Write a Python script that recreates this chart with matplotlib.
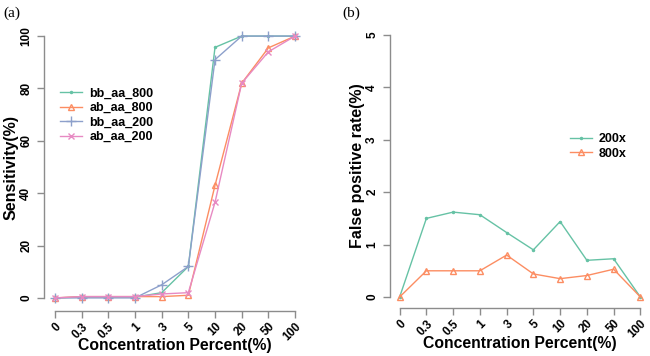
import matplotlib
matplotlib.use("Agg")
import matplotlib.pyplot as plt

plt.rcParams['font.family'] = ['Liberation Sans', 'DejaVu Sans']

conc = ['0', '0.3', '0.5', '1', '3', '5', '10', '20', '50', '100']

# panel (a): sensitivity (%)
bb_aa_800 = [0, 0.3, 0.3, 0.3, 2, 12, 95.7, 100, 100, 100]
ab_aa_800 = [0, 0.5, 0.5, 0.5, 0.5, 1, 43, 82, 95.5, 100]
bb_aa_200 = [0, 0, 0, 0, 5, 12, 91, 100, 100, 100]
ab_aa_200 = [0, 0.5, 0.5, 0.5, 1.5, 2, 36.5, 82, 94, 100]

# panel (b): false positive rate (%)
fp_200x = [0, 1.5, 1.62, 1.57, 1.23, 0.9, 1.44, 0.7, 0.73, 0]
fp_800x = [0, 0.5, 0.5, 0.5, 0.8, 0.44, 0.35, 0.41, 0.53, 0]

green = '#66C2A5'
orange = '#FC8D62'
blue = '#8DA0CB'
pink = '#E78AC3'
axcol = '#8c8c8c'

x = list(range(len(conc)))

fig = plt.figure(figsize=(6.5, 3.56), dpi=100)
ax1 = fig.add_axes([44/650, 45/356, 262/650, 288/356])
ax2 = fig.add_axes([390/650, 48/356, 260/650, 284/356])


def r_style(ax, ymax, yticks, xlab_y):
    for s in ['top', 'right']:
        ax.spines[s].set_visible(False)
    ax.spines['left'].set_bounds(0, ymax)
    ax.spines['bottom'].set_bounds(0, 9)
    for s in ['left', 'bottom']:
        ax.spines[s].set_color(axcol)
        ax.spines[s].set_linewidth(1.0)
    ax.set_xticks(x)
    ax.set_xticklabels(conc, rotation=45, ha='right', rotation_mode='anchor',
                       fontsize=8.5, fontweight='bold')
    ax.set_yticks(yticks)
    ax.set_yticklabels([str(t) for t in yticks], rotation=90, va='center',
                       fontsize=8.5, fontweight='bold')
    ax.tick_params(color=axcol, length=5, width=1)
    ax.tick_params(axis='x', pad=2)
    ax.set_xlabel('Concentration Percent(%)', fontsize=11.3, fontweight='bold',
                  va='center')
    ax.xaxis.set_label_coords(0.5, xlab_y)
    ax.patch.set_visible(False)


ax1.plot(x, bb_aa_800, color=green, lw=1, marker='.', ms=3, label='bb_aa_800')
ax1.plot(x, ab_aa_800, color=orange, lw=1, marker='^', ms=5, mfc='none', label='ab_aa_800')
ax1.plot(x, bb_aa_200, color=blue, lw=1, marker='+', ms=7, label='bb_aa_200')
ax1.plot(x, ab_aa_200, color=pink, lw=1, marker='x', ms=5, label='ab_aa_200')
ax1.set_xlim(-0.41, 9.41)
ax1.set_ylim(-5, 105)
r_style(ax1, 100, [0, 20, 40, 60, 80, 100], -0.12)
ax1.set_ylabel('Sensitivity(%)', fontsize=11.5, fontweight='bold', labelpad=1)
ax1.legend(loc='upper left', bbox_to_anchor=(0.02, 0.815), frameon=False,
           prop={'weight': 'bold', 'size': 9}, handlelength=1.7,
           labelspacing=0.2, handletextpad=0.6)

ax2.plot(x, fp_200x, color=green, lw=1, marker='.', ms=3, label='200x')
ax2.plot(x, fp_800x, color=orange, lw=1, marker='^', ms=5, mfc='none', label='800x')
ax2.set_xlim(-0.36, 9.36)
ax2.set_ylim(-0.21, 5.21)
r_style(ax2, 5, [0, 1, 2, 3, 4, 5], -0.125)
ax2.set_ylabel('False positive rate(%)', fontsize=11.5, fontweight='bold', labelpad=1)
ax2.legend(loc='upper left', bbox_to_anchor=(0.65, 0.655), frameon=False,
           prop={'weight': 'bold', 'size': 9}, handlelength=1.7,
           labelspacing=0.2, handletextpad=0.6)

fig.text(3/650, 1 - 13/356, '(a)', family='Liberation Serif', fontsize=11, va='center')
fig.text(342/650, 1 - 13/356, '(b)', family='Liberation Serif', fontsize=11, va='center')

fig.savefig('out.png', dpi=100)
